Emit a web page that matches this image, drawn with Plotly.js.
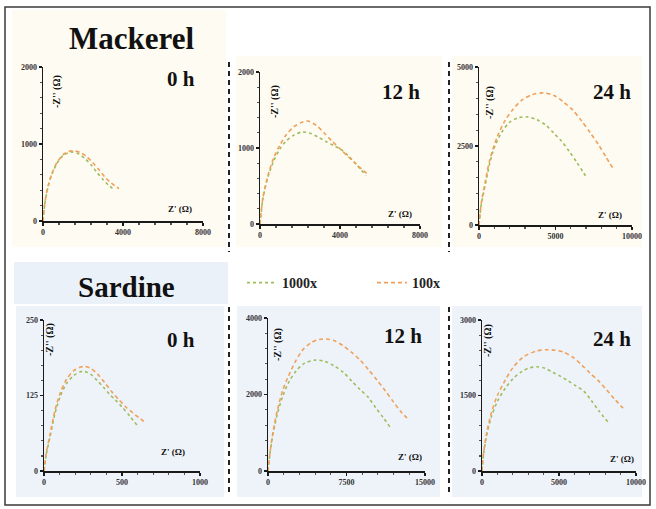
<!DOCTYPE html>
<html>
<head>
<meta charset="utf-8">
<script src="https://cdn.plot.ly/plotly-3.0.1.min.js"></script>
<style>
  html, body { margin: 0; padding: 0; background: #ffffff; }
  #chart { width: 656px; height: 509px; }
</style>
</head>
<body>
<div id="chart"></div>
<script>
// Nyquist plots (Z' vs -Z'') for mackerel and sardine at 0, 12 and 24 h,
// two dilutions each: 1000x (green, dotted) and 100x (orange, dashed).

// ---- Mackerel, 0 h ----
const mack0_re_1000x = [0, 100, 250, 450, 700, 1000, 1300, 1500, 1800, 2100, 2400, 2700, 3000, 3300, 3600];
const mack0_im_1000x = [0, 240, 440, 610, 750, 850, 890, 895, 870, 810, 730, 630, 540, 460, 400];
const mack0_re_100x  = [0, 100, 250, 450, 700, 1000, 1300, 1600, 1900, 2200, 2500, 2800, 3100, 3400, 3800];
const mack0_im_100x  = [0, 250, 450, 620, 760, 860, 905, 910, 885, 830, 755, 665, 570, 495, 420];

// ---- Mackerel, 12 h ----
const mack12_re_1000x = [0, 150, 400, 700, 1000, 1300, 1700, 2100, 2500, 2900, 3300, 3700, 4000, 4400, 4800, 5300];
const mack12_im_1000x = [0, 340, 620, 840, 990, 1090, 1170, 1210, 1195, 1145, 1085, 1030, 990, 900, 790, 635];
const mack12_re_100x  = [0, 150, 400, 700, 1000, 1300, 1700, 2100, 2400, 2800, 3200, 3600, 4000, 4400, 4800, 5400];
const mack12_im_100x  = [0, 350, 640, 880, 1040, 1170, 1280, 1340, 1355, 1300, 1200, 1090, 990, 890, 790, 650];

// ---- Mackerel, 24 h ----
const mack24_re_1000x = [0, 150, 400, 700, 1000, 1500, 2000, 2600, 3200, 3800, 4400, 4900, 5400, 5900, 6400, 6800, 7050];
const mack24_im_1000x = [0, 650, 1250, 1950, 2450, 2950, 3250, 3400, 3420, 3330, 3150, 2900, 2650, 2330, 1980, 1680, 1490];
const mack24_re_100x  = [0, 150, 400, 700, 1200, 1700, 2200, 2800, 3500, 4200, 4900, 5500, 6100, 6700, 7300, 7800, 8300, 8750];
const mack24_im_100x  = [0, 700, 1350, 2050, 2800, 3300, 3650, 3950, 4130, 4180, 4100, 3900, 3650, 3300, 2900, 2550, 2150, 1800];

// ---- Sardine, 0 h ----
const sard0_re_1000x = [0, 15, 40, 70, 105, 145, 190, 230, 260, 300, 340, 380, 420, 460, 500, 550, 596];
const sard0_im_1000x = [0, 28, 58, 95, 124, 145, 158, 164, 165, 160, 150, 139, 127, 117, 106, 91, 76];
const sard0_re_100x  = [0, 15, 40, 70, 105, 145, 190, 235, 263, 300, 345, 390, 435, 480, 525, 570, 610, 647];
const sard0_im_100x  = [0, 30, 62, 100, 130, 152, 166, 172, 173, 170, 160, 146, 131, 118, 106, 96, 88, 81];

// ---- Sardine, 12 h ----
const sard12_re_1000x = [0, 200, 500, 900, 1400, 2000, 2700, 3500, 4500, 5400, 6300, 7200, 8000, 8800, 9600, 10300, 11000, 11650];
const sard12_im_1000x = [0, 480, 1000, 1500, 1950, 2330, 2620, 2820, 2900, 2870, 2750, 2580, 2350, 2130, 1920, 1650, 1400, 1150];
const sard12_re_100x  = [0, 200, 500, 900, 1400, 1900, 2600, 3300, 4100, 4900, 5640, 6400, 7200, 8000, 8800, 9600, 10400, 11200, 12000, 12700, 13280];
const sard12_im_100x  = [0, 500, 1050, 1600, 2100, 2450, 2850, 3160, 3350, 3440, 3450, 3400, 3270, 3100, 2900, 2650, 2380, 2100, 1800, 1550, 1390];

// ---- Sardine, 24 h ----
const sard24_re_1000x = [0, 100, 300, 600, 1000, 1500, 2000, 2600, 3100, 3570, 4100, 4600, 5100, 5600, 6100, 6600, 7100, 7600, 8180];
const sard24_im_1000x = [0, 330, 700, 1070, 1380, 1640, 1830, 1980, 2050, 2070, 2040, 1960, 1880, 1790, 1690, 1590, 1400, 1190, 975];
const sard24_re_100x  = [0, 100, 300, 600, 1000, 1500, 2000, 2700, 3500, 4200, 4740, 5300, 5900, 6500, 7000, 7600, 8100, 8600, 9160];
const sard24_im_100x  = [0, 350, 750, 1150, 1500, 1800, 2050, 2270, 2380, 2410, 2400, 2360, 2260, 2100, 1950, 1780, 1610, 1430, 1250];

// Axis ticks per panel
const mack0_xticks  = [0, 4000, 8000];   const mack0_yticks  = [0, 1000, 2000];
const mack12_xticks = [0, 4000, 8000];   const mack12_yticks = [0, 1000, 2000];
const mack24_xticks = [0, 5000, 10000];  const mack24_yticks = [0, 2500, 5000];
const sard0_xticks  = [0, 500, 1000];    const sard0_yticks  = [0, 125, 250];
const sard12_xticks = [0, 7500, 15000];  const sard12_yticks = [0, 2000, 4000];
const sard24_xticks = [0, 5000, 10000];  const sard24_yticks = [0, 1500, 3000];

const timeLabels = ['0 h', '12 h', '24 h'];
const fishLabels = ['Mackerel', 'Sardine'];
const seriesNames = ['1000x', '100x'];

// ---------------------------------------------------------------------------
const W = 656, H = 509;
const px = x => x / W;
const py = y => 1 - y / H;

const GREEN = '#9dbd5c';
const ORANGE = '#f0a05a';
const SERIF = 'Liberation Serif';

// Plot frame of each panel in page pixels: [left, right, top, bottom]
const panels = [
  { re1: mack0_re_1000x,  im1: mack0_im_1000x,  re2: mack0_re_100x,  im2: mack0_im_100x,  xt: mack0_xticks,  yt: mack0_yticks,  box: [43, 203, 67, 221],  label: timeLabels[0], lab: [181, 79],  ytl: [57, 91],  xtl: [180, 209] },
  { re1: mack12_re_1000x, im1: mack12_im_1000x, re2: mack12_re_100x, im2: mack12_im_100x, xt: mack12_xticks, yt: mack12_yticks, box: [260, 420, 72, 224], label: timeLabels[1], lab: [401, 92],  ytl: [275, 102], xtl: [400, 214] },
  { re1: mack24_re_1000x, im1: mack24_im_1000x, re2: mack24_re_100x, im2: mack24_im_100x, xt: mack24_xticks, yt: mack24_yticks, box: [479, 632, 67, 225], label: timeLabels[2], lab: [612, 92],  ytl: [490, 103], xtl: [610, 215] },
  { re1: sard0_re_1000x,  im1: sard0_im_1000x,  re2: sard0_re_100x,  im2: sard0_im_100x,  xt: sard0_xticks,  yt: sard0_yticks,  box: [44, 200, 320, 471], label: timeLabels[0], lab: [181, 340], ytl: [50, 340],  xtl: [173, 452] },
  { re1: sard12_re_1000x, im1: sard12_im_1000x, re2: sard12_re_100x, im2: sard12_im_100x, xt: sard12_xticks, yt: sard12_yticks, box: [268, 425, 318, 471], label: timeLabels[1], lab: [403, 336], ytl: [278, 345], xtl: [410, 457] },
  { re1: sard24_re_1000x, im1: sard24_im_1000x, re2: sard24_re_100x, im2: sard24_im_100x, xt: sard24_xticks, yt: sard24_yticks, box: [482, 636, 320, 471], label: timeLabels[2], lab: [612, 339], ytl: [488, 341], xtl: [622, 459] }
];

const data = [];
const layout = {
  width: W, height: H,
  margin: { l: 0, r: 0, t: 0, b: 0 },
  paper_bgcolor: '#ffffff',
  plot_bgcolor: 'rgba(0,0,0,0)',
  font: { family: SERIF },
  showlegend: true,
  legend: {
    orientation: 'h',
    x: px(242), y: py(267), xanchor: 'left', yanchor: 'top',
    entrywidth: 85, entrywidthmode: 'pixels',
    bgcolor: 'rgba(0,0,0,0)',
    font: { family: SERIF, size: 14, color: '#222', weight: 'bold' },
    itemwidth: 30
  },
  shapes: [],
  annotations: []
};

// Panel backgrounds
const bgRects = [
  [12, 226, 10, 247, '#fefbf2'],
  [236, 442, 56, 247, '#fefbf2'],
  [452, 642, 56, 247, '#fefbf2'],
  [14, 228, 262, 304, '#ebf1f9'],
  [16, 224, 306, 497, '#eef3fa'],
  [237, 440, 306, 497, '#eef3fa'],
  [452, 642, 306, 497, '#eef3fa']
];
bgRects.forEach(r => layout.shapes.push({
  type: 'rect', xref: 'paper', yref: 'paper', layer: 'below',
  x0: px(r[0]), x1: px(r[1]), y0: py(r[3]), y1: py(r[2]),
  fillcolor: r[4], line: { width: 0 }
}));

// Dashed separators between panels
[[229, 62, 252], [449, 62, 252], [229, 307, 495], [449, 307, 495]].forEach(s => layout.shapes.push({
  type: 'line', xref: 'paper', yref: 'paper',
  x0: px(s[0]), x1: px(s[0]), y0: py(s[1]), y1: py(s[2]),
  line: { color: '#222', width: 2, dash: '5px,4px' }
}));

// Outer frame
layout.shapes.push({
  type: 'rect', xref: 'paper', yref: 'paper',
  x0: px(5), x1: px(650), y0: py(505), y1: py(7),
  line: { color: '#3a3a3a', width: 1.5 }
});

function note(x, y, text, size, extra) {
  return Object.assign({
    xref: 'paper', yref: 'paper', x: px(x), y: py(y),
    xanchor: 'center', yanchor: 'middle',
    text: text, showarrow: false,
    font: { family: SERIF, size: size, color: '#111', weight: 'bold' }
  }, extra || {});
}

panels.forEach((p, i) => {
  const n = i + 1;
  const xa = n === 1 ? 'xaxis' : 'xaxis' + n;
  const ya = n === 1 ? 'yaxis' : 'yaxis' + n;
  const xr = 'x' + (n === 1 ? '' : n);
  const yr = 'y' + (n === 1 ? '' : n);
  const [l, r, t, b] = p.box;
  const xmax = p.xt[p.xt.length - 1];
  const ymax = p.yt[p.yt.length - 1];

  const axisCommon = {
    showline: true, linecolor: '#1a1a1a', linewidth: 1.5,
    showgrid: false, zeroline: false, mirror: false,
    ticks: 'outside', ticklen: 3, tickwidth: 1.2, tickcolor: '#1a1a1a',
    tickformat: 'd',
    tickfont: { family: SERIF, size: 8, color: '#333', weight: 'bold' },
    fixedrange: true
  };
  layout[xa] = Object.assign({}, axisCommon, {
    domain: [px(l), px(r)], anchor: yr,
    range: [0, xmax], tickvals: p.xt,
    minor: { ticks: 'outside', ticklen: 2, tickcolor: '#555', dtick: xmax / 10 }
  });
  layout[ya] = Object.assign({}, axisCommon, {
    domain: [py(b), py(t)], anchor: xr,
    range: [0, ymax], tickvals: p.yt,
    minor: { ticks: 'outside', ticklen: 2, tickcolor: '#555', dtick: ymax / 10 }
  });

  data.push({
    x: p.re1, y: p.im1, xaxis: xr, yaxis: yr,
    type: 'scatter', mode: 'lines', line: { shape: 'spline', smoothing: 0.8, color: GREEN, width: 1.6, dash: 'dot' },
    name: seriesNames[0], legendgroup: 'g1000', showlegend: n === 1, hoverinfo: 'skip'
  });
  data.push({
    x: p.re2, y: p.im2, xaxis: xr, yaxis: yr,
    type: 'scatter', mode: 'lines', line: { shape: 'spline', smoothing: 0.8, color: ORANGE, width: 1.6, dash: '4px,3px' },
    name: seriesNames[1], legendgroup: 'g100', showlegend: n === 1, hoverinfo: 'skip'
  });

  // Arrow at the end of the Z' axis
  layout.annotations.push({
    xref: xr, yref: yr, x: xmax * 1.02, y: 0, ax: -8, ay: 0,
    showarrow: true, arrowhead: 2, arrowsize: 0.7, arrowwidth: 1.5, arrowcolor: '#1a1a1a', text: ''
  });

  // Time label and axis titles
  layout.annotations.push(note(p.lab[0], p.lab[1], p.label, 21));
  layout.annotations.push(note(p.ytl[0], p.ytl[1], "-Z'' (Ω)", 10, { textangle: -90 }));
  layout.annotations.push(note(p.xtl[0], p.xtl[1], "Z' (Ω)", 9));
});

// Sample titles
layout.annotations.push(note(131, 39, fishLabels[0], 31));
layout.annotations.push(note(126, 287, fishLabels[1], 29));

Plotly.newPlot('chart', data, layout, { displayModeBar: false, staticPlot: true });
</script>
</body>
</html>
